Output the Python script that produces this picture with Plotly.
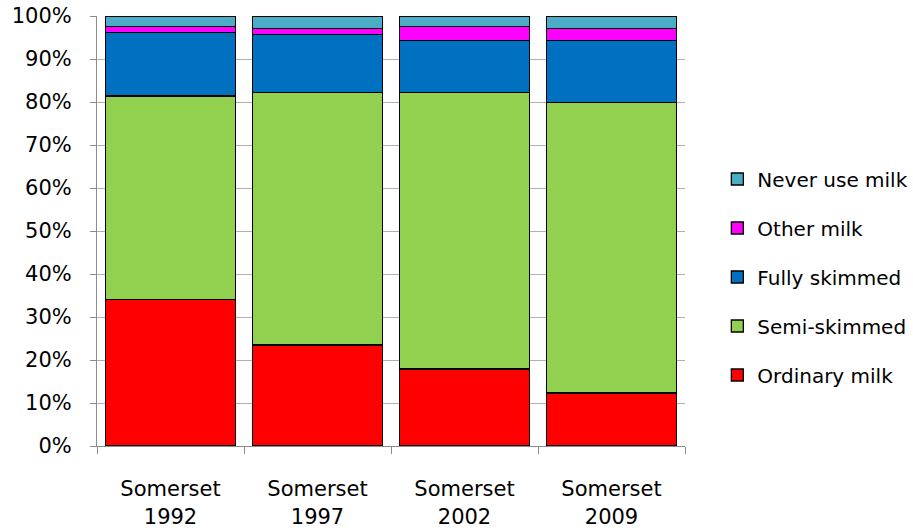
import plotly.graph_objects as go

categories = ["Somerset<br>1992", "Somerset<br>1997", "Somerset<br>2002", "Somerset<br>2009"]
ordinary = [34.0, 23.5, 17.9, 12.3]
semi = [47.4, 58.7, 64.3, 67.6]
fully = [14.8, 13.5, 12.1, 14.4]
other = [1.3, 1.4, 3.2, 2.8]
never = [2.5, 2.9, 2.5, 2.9]

series = [
    ("Ordinary milk", ordinary, "#FF0000"),
    ("Semi-skimmed", semi, "#92D050"),
    ("Fully skimmed", fully, "#0070C0"),
    ("Other milk", other, "#FF00FF"),
    ("Never use milk", never, "#4BACC6"),
]

fig = go.Figure()
for i, (name, vals, col) in enumerate(series):
    fig.add_trace(go.Bar(
        x=categories, y=vals, name=name, legendgroup=name,
        legendrank=len(series) - i,
        marker=dict(color=col, line=dict(color="#000000", width=1.3)),
    ))

font = "DejaVu Sans, Verdana, sans-serif"
fig.update_layout(
    width=913, height=532,
    margin=dict(l=97, r=228, t=16, b=86, autoexpand=False),
    barmode="stack", bargap=0.12,
    plot_bgcolor="white", paper_bgcolor="white",
    font=dict(family=font, size=21, color="#000000"),
    showlegend=True,
    legend=dict(
        x=1.055, xanchor="left", y=0.393, yanchor="middle",
        traceorder="grouped", tracegroupgap=20,
        font=dict(family=font, size=20, color="#000000"),
        itemwidth=30,
    ),
    xaxis=dict(
        showline=True, linecolor="#8c8c8c", linewidth=1,
        ticks="outside", tickson="boundaries", ticklen=7, tickcolor="#8c8c8c",
        showgrid=False, tickfont=dict(size=21), automargin=False,
        ticklabelstandoff=24,
    ),
    yaxis=dict(
        range=[0, 100], dtick=10, ticksuffix="%",
        showline=True, linecolor="#8c8c8c", linewidth=1,
        ticks="outside", ticklen=6, tickcolor="#8c8c8c",
        showgrid=True, gridcolor="#b0b0b0", gridwidth=1,
        tickfont=dict(size=21), zeroline=False, automargin=False,
        ticklabelstandoff=14,
    ),
)

fig.write_html("out.html")
